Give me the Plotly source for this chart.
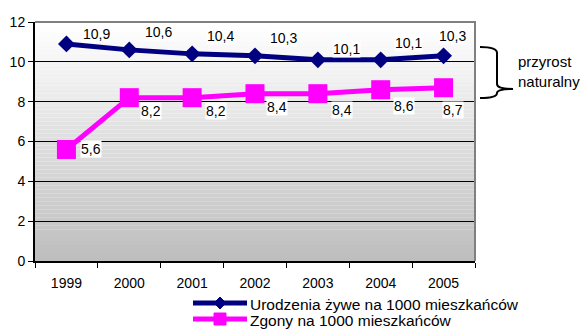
import plotly.graph_objects as go

years = ["1999", "2000", "2001", "2002", "2003", "2004", "2005"]
births = [10.9, 10.6, 10.4, 10.3, 10.1, 10.1, 10.3]
deaths = [5.6, 8.2, 8.2, 8.4, 8.4, 8.6, 8.7]
births_name = "Urodzenia żywe na 1000 mieszkańców"
deaths_name = "Zgony na 1000 mieszkańców"
brace_text = "przyrost<br>naturalny"

# label offsets in pixels (style)
births_off = [(30, 10), (29, 18), (28, 18), (28, 18), (29, 11), (28, 17), (9, 20)]
deaths_off = [(25, 0), (22, -13), (24, -13), (22, -13), (24, -16), (23, -16), (9, -22)]

BLUE, PINK = "#000080", "#ff00ff"
W, H = 587, 329
L, R, T, B = 35, 475, 22, 261
FONT = "Liberation Sans, Arial, sans-serif"

fig = go.Figure()
fig.add_trace(go.Scatter(x=years, y=births, name=births_name, mode="lines+markers",
                         line=dict(color=BLUE, width=5),
                         marker=dict(symbol="diamond", size=13, color=BLUE)))
fig.add_trace(go.Scatter(x=years, y=deaths, name=deaths_name, mode="lines+markers",
                         line=dict(color=PINK, width=5),
                         marker=dict(symbol="square", size=19, color=PINK)))

def fmt(v):
    return f"{v:.1f}".replace(".", ",")

anns = []
for i, (v, (dx, dy)) in enumerate(zip(births, births_off)):
    anns.append(dict(x=i, y=v, text=fmt(v), showarrow=False, xshift=dx, yshift=dy,
                     bgcolor="white", borderpad=0,
                     font=dict(size=14, color="black", family=FONT)))
for i, (v, (dx, dy)) in enumerate(zip(deaths, deaths_off)):
    anns.append(dict(x=i, y=v, text=fmt(v), showarrow=False, xshift=dx, yshift=dy,
                     bgcolor="white", borderpad=0,
                     font=dict(size=14, color="black", family=FONT)))

def px(x):
    return (x - L) / (R - L)

def py(y):
    return (B - y) / (B - T)

anns.append(dict(xref="paper", yref="paper", x=px(516), y=py(71), xanchor="left", yanchor="middle",
                 text=brace_text, showarrow=False, align="left",
                 font=dict(size=15, color="black", family=FONT)))

shapes = []
# gradient background
n = 60
for i in range(n):
    t = i / (n - 1)
    c = int(round(255 - (255 - 190) * (1 - t)))
    shapes.append(dict(type="rect", xref="paper", yref="paper", x0=0, x1=1,
                       y0=i / n, y1=(i + 1) / n, fillcolor=f"rgb({c},{c},{c})",
                       line=dict(width=0), layer="below"))
# gray frame top/right
shapes.append(dict(type="path", xref="paper", yref="paper",
                   path="M 0 1 L 1 1 L 1 0", line=dict(color="#808080", width=2)))
# brace
bx0, bx1, bxt = 480, 497, 513
ty, by, tipy = 47, 98, 89
path = (f"M {px(bx0)} {py(ty)} Q {px(bx1)} {py(ty)} {px(bx1)} {py(ty+6)} "
        f"L {px(bx1)} {py(tipy-5)} Q {px(bx1)} {py(tipy)} {px(bxt)} {py(tipy)} "
        f"Q {px(bx1)} {py(tipy)} {px(bx1)} {py(tipy+4)} "
        f"Q {px(bx1)} {py(by)} {px(bx0)} {py(by)}")
shapes.append(dict(type="path", xref="paper", yref="paper", path=path,
                   line=dict(color="black", width=2)))

# manual legend
leg_x0, leg_x1, leg_tx = 193, 247, 248
for name, color, sym, rowy in [(births_name, BLUE, "diamond", 303),
                               (deaths_name, PINK, "square", 319)]:
    shapes.append(dict(type="line", xref="paper", yref="paper",
                       x0=px(leg_x0), x1=px(leg_x1), y0=py(rowy), y1=py(rowy),
                       line=dict(color=color, width=5)))
    cx = (leg_x0 + leg_x1) / 2
    if sym == "diamond":
        p = (f"M {px(cx-6)} {py(rowy)} L {px(cx)} {py(rowy-6)} L {px(cx+6)} {py(rowy)} "
             f"L {px(cx)} {py(rowy+6)} Z")
    else:
        p = (f"M {px(cx-6)} {py(rowy-6)} L {px(cx+6)} {py(rowy-6)} L {px(cx+6)} {py(rowy+6)} "
             f"L {px(cx-6)} {py(rowy+6)} Z")
    shapes.append(dict(type="path", xref="paper", yref="paper", path=p,
                       fillcolor=color, line=dict(color=color, width=1)))
    anns.append(dict(xref="paper", yref="paper", x=px(leg_tx), y=py(rowy + 1),
                     xanchor="left", yanchor="middle", text=name, showarrow=False,
                     font=dict(size=15.5, color="black", family=FONT)))

fig.update_layout(
    width=W, height=H,
    margin=dict(l=L, r=W - R, t=T, b=H - B, autoexpand=False),
    paper_bgcolor="white", plot_bgcolor="rgba(0,0,0,0)",
    font=dict(family=FONT, size=14, color="black"),
    showlegend=False,
    annotations=anns, shapes=shapes,
    xaxis=dict(type="category", tickson="boundaries", ticks="outside", ticklen=5,
               tickcolor="black", showline=True, linecolor="black", linewidth=2,
               showgrid=False, range=[-0.5, 6.5], fixedrange=True,
               tickfont=dict(size=14), ticklabelstandoff=8),
    yaxis=dict(range=[0, 12], dtick=2, ticks="outside", ticklen=5, tickcolor="black",
               showline=True, linecolor="black", linewidth=2, showgrid=True,
               gridcolor="black", gridwidth=1, zeroline=False, fixedrange=True,
               tickfont=dict(size=14)),
)

fig.write_html("out.html", config={"displayModeBar": False},
               post_script="document.body.style.margin='0';document.body.style.overflow='hidden';")
